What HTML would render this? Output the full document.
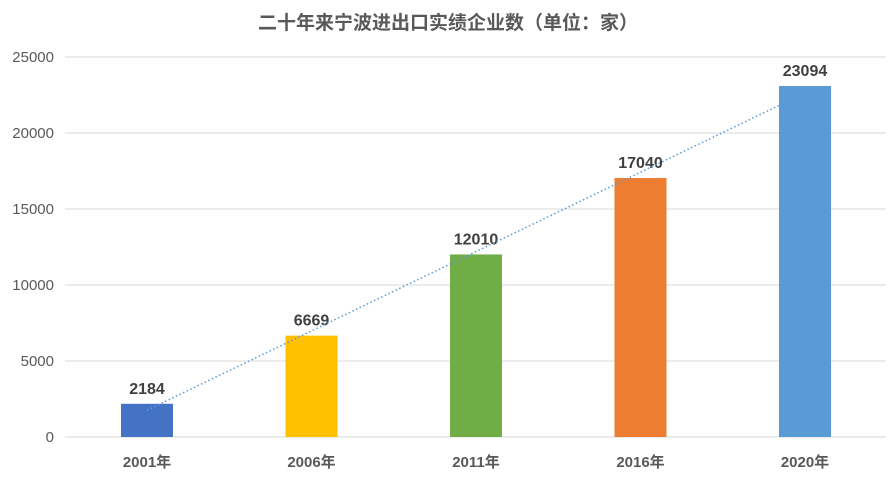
<!DOCTYPE html>
<html><head><meta charset="utf-8"><style>
body{margin:0;background:#fff;}
svg{display:block;font-family:"Liberation Sans","Noto Sans CJK SC",sans-serif;}
</style></head><body>
<svg width="896" height="479" viewBox="0 0 896 479" id="chart">
<text x="448" y="29" text-anchor="middle" font-size="19" font-weight="bold" fill="#595959">二十年来宁波进出口实绩企业数（单位：家）</text>
<g id="grid"></g><g id="bars"></g><g id="labels"></g><g id="trend"></g>
</svg>
<script>
const categories=["2001年","2006年","2011年","2016年","2020年"];
const values=[2184,6669,12010,17040,23094];
const colors=["#4472C4","#FFC000","#70AD47","#ED7D31","#5B9BD5"];
const yTicks=[0,5000,10000,15000,20000,25000];
const NS="http://www.w3.org/2000/svg";
const y0=437,yTop=57,yMax=25000;
const yS=v=>y0-(v/yMax)*(y0-yTop);
const xS=i=>147+i*164.5;
function mk(t,a,p){const e=document.createElementNS(NS,t);for(const k in a)e.setAttribute(k,a[k]);document.getElementById(p).appendChild(e);return e;}
yTicks.forEach(v=>{
 const l=mk("line",{x1:65,x2:886,y1:yS(v),y2:yS(v),stroke:"#d9d9d9","stroke-width":1},"grid");
 
 
 const t=mk("text",{x:54,y:yS(v)+5,"text-anchor":"end","font-size":15,fill:"#595959"},"grid");
 t.textContent=v;
 
 
});
values.forEach((v,i)=>{
 const r=mk("rect",{x:xS(i)-26,y:yS(v),width:52,height:y0-yS(v),fill:colors[i]},"bars");
 
 
 const t=mk("text",{x:xS(i),y:yS(v)-10,"text-anchor":"middle","font-size":16,"font-weight":"bold",fill:"#404040"},"labels");
 t.textContent=v;
 
 
 const c=mk("text",{x:xS(i),y:467,"text-anchor":"middle","font-size":15,"font-weight":"bold",fill:"#595959"},"labels");
 c.textContent=categories[i];
 
 
});
// linear trendline
const n=values.length,mx=(n-1)/2,my=values.reduce((a,b)=>a+b,0)/n;
let num=0,den=0;values.forEach((v,i)=>{num+=(i-mx)*(v-my);den+=(i-mx)*(i-mx);});
const sl=num/den,ic=my-sl*mx;
const tl=mk("line",{x1:xS(0),y1:yS(ic),x2:xS(n-1),y2:yS(ic+sl*(n-1)),stroke:"#5B9BD5","stroke-width":1.5,"stroke-dasharray":"1.5,2.5"},"trend");


</script>
</body></html>
